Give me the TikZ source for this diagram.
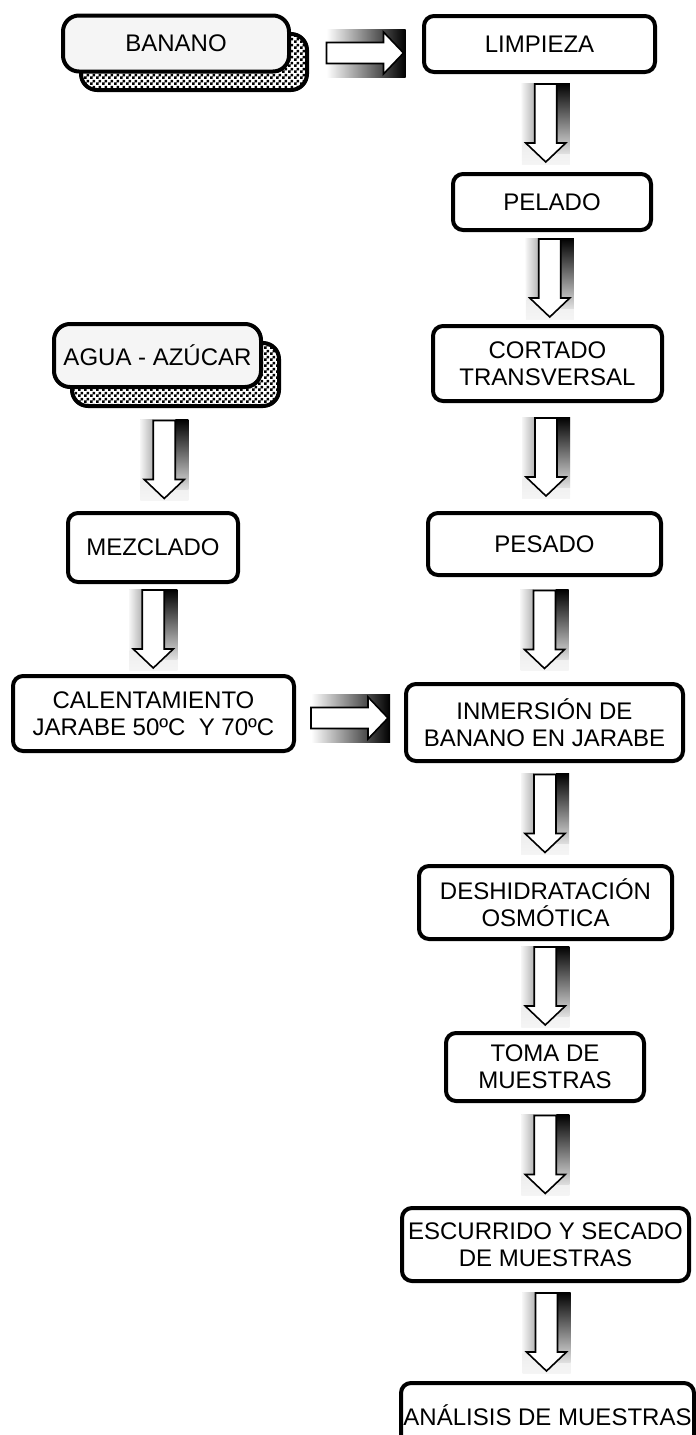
\documentclass[tikz,border=0pt]{standalone}
\usepackage{fontspec}
\setmainfont{Liberation Sans}
\usetikzlibrary{calc,patterns}

\pgfdeclarepatternformonly{cuadritos}{\pgfpointorigin}{\pgfqpoint{3pt}{3pt}}{\pgfqpoint{3pt}{3pt}}{%
  \pgfpathrectangle{\pgfpointorigin}{\pgfqpoint{1.5pt}{1.5pt}}%
  \pgfpathrectangle{\pgfqpoint{1.5pt}{1.5pt}}{\pgfqpoint{1.5pt}{1.5pt}}%
  \pgfusepath{fill}}

\newcommand{\flechabajo}[2]{%
  \begin{scope}[shift={($(#1.south)!0.5!(#2.north)$)}]
    \shade[top color=gray!30,bottom color=gray!8] (-24,-40) rectangle (24,41);
    \shade[left color=gray!8,right color=gray!60] (-24,-40) rectangle (-11,21);
    \shade[top color=black,bottom color=gray!25] (11,-40) rectangle (24,30);
    \draw[flecha] (-11,-39) -- (-11,20) -- (-20,20) -- (0,39) -- (20,20) -- (11,20) -- (11,-39) -- cycle;
  \end{scope}}

\newcommand{\flechaderecha}[2]{%
  \begin{scope}[shift={($(#1.east)!0.5!(#2.west)$)}]
    \shade[left color=white,middle color=gray!20,right color=black] (-39,-24) rectangle (40,24);
    \draw[flecha] (-39,-10.5) -- (18,-10.5) -- (18,-21) -- (38,0) -- (18,21) -- (18,10.5) -- (-39,10.5) -- cycle;
  \end{scope}}

\begin{document}
\begin{tikzpicture}[x=0.5pt,y=-0.5pt,
    caja/.style={draw,line width=2pt,rounded corners=5pt,fill=white,align=center,inner sep=0pt,
      font=\fontsize{12}{13.5}\selectfont},
    inicio/.style={caja,rounded corners=8pt,fill=gray!8},
    sombra/.style={draw,line width=2pt,rounded corners=8pt,preaction={fill=white},pattern=cuadritos},
    flecha/.style={draw=black,fill=white,line width=0.8pt,line join=miter}]
\useasboundingbox (0,0) rectangle (696,1435);

\node[sombra,minimum width=113pt,minimum height=28pt] (bananosombra) at (194,62) {};
\node[inicio,minimum width=113pt,minimum height=28pt] (banano) at (176,43.5) {BANANO};
\node[sombra,minimum width=103.5pt,minimum height=31.5pt] (aguasombra) at (175.5,374.5) {};
\node[inicio,minimum width=103.5pt,minimum height=31.5pt] (agua) at (157.5,355.5) {AGUA - AZÚCAR};
\node[caja,minimum width=85pt,minimum height=34.5pt] (mezclado) at (153,547.5) {MEZCLADO};
\node[caja,minimum width=140.5pt,minimum height=37.5pt] (calentamiento) at (153.5,713.5) {CALENTAMIENTO\\JARABE 50ºC~ Y 70ºC};

\node[caja,minimum width=115.5pt,minimum height=28pt] (limpieza) at (539.5,44) {LIMPIEZA};
\node[caja,minimum width=99pt,minimum height=28pt] (pelado) at (552,202) {PELADO};
\node[caja,minimum width=114.5pt,minimum height=37.5pt] (cortado) at (547.5,363.5) {CORTADO\\TRANSVERSAL};
\node[caja,minimum width=116.5pt,minimum height=31pt] (pesado) at (544.5,544) {PESADO};
\node[caja,minimum width=138.5pt,minimum height=38.5pt] (inmersion) at (544.5,722.5) {INMERSIÓN DE\\BANANO EN JARABE};
\node[caja,minimum width=126.5pt,minimum height=36.5pt] (deshidratacion) at (545.5,902.5) {DESHIDRATACIÓN\\OSMÓTICA};
\node[caja,minimum width=99pt,minimum height=34pt] (toma) at (545,1067) {TOMA DE\\MUESTRAS};
\node[caja,minimum width=143.5pt,minimum height=36.5pt] (escurrido) at (545.5,1244.5) {ESCURRIDO Y SECADO\\DE MUESTRAS};
\node[caja,minimum width=146.5pt,minimum height=32pt] (analisis) at (547.5,1415) {ANÁLISIS DE MUESTRAS};

\flechaderecha{bananosombra}{limpieza}
\flechabajo{limpieza}{pelado}
\flechabajo{pelado}{cortado}
\flechabajo{cortado}{pesado}
\flechabajo{pesado}{inmersion}
\flechabajo{aguasombra}{mezclado}
\flechabajo{mezclado}{calentamiento}
\flechaderecha{calentamiento}{inmersion}
\flechabajo{inmersion}{deshidratacion}
\flechabajo{deshidratacion}{toma}
\flechabajo{toma}{escurrido}
\flechabajo{escurrido}{analisis}
\end{tikzpicture}
\end{document}
